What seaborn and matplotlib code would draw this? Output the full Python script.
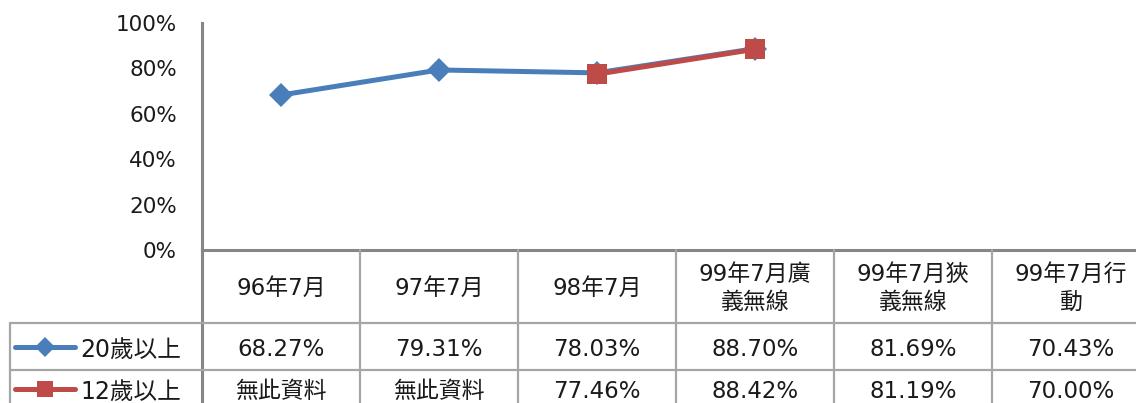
import numpy as np
import pandas as pd
import matplotlib
matplotlib.use("Agg")
import matplotlib.pyplot as plt
from matplotlib.lines import Line2D
from matplotlib.ticker import PercentFormatter
import seaborn as sns

# ---- data ----
categories = ["96年7月", "97年7月", "98年7月", "99年7月廣\n義無線", "99年7月狹\n義無線", "99年7月行\n動"]
series_names = ["20歲以上", "12歲以上"]
values_20 = [68.27, 79.31, 78.03, 88.70, 81.69, 70.43]
values_12 = [None, None, 77.46, 88.42, 81.19, 70.00]
missing_label = "無此資料"
n_plotted = 4  # the chart lines stop at the fourth category
y_ticks = [0, 20, 40, 60, 80, 100]

# ---- style ----
sns.set_theme(style="white")
plt.rcParams['font.family'] = ['DejaVu Sans', 'Noto Sans CJK TC']
FS = 16.5
FS_Y = 15.5
BLUE = "#4A7EBB"
RED = "#BE4B48"
AXIS_GRAY = "#868686"
GRID_GRAY = "#A6A6A6"
TXT = "#1a1a1a"

W, H = 1136, 403
fig = plt.figure(figsize=(W / 100, H / 100), dpi=100)

# main plot geometry (pixels)
ax_left, ax_top, ax_bottom = 202, 23, 250
col_w = 158
n_cols = len(categories)
ax = fig.add_axes([ax_left / W, (H - ax_bottom) / H, col_w * n_cols / W, (ax_bottom - ax_top) / H])

rows = []
for i, cat in enumerate(categories[:n_plotted]):
    for name, vals in zip(series_names, [values_20, values_12]):
        v = vals[i]
        if v is not None:
            rows.append({"x": i, "val": v / 100.0, "series": name})
df = pd.DataFrame(rows)

palette = {series_names[0]: BLUE, series_names[1]: RED}
markers = {series_names[0]: "D", series_names[1]: "s"}
sns.lineplot(data=df, x="x", y="val", hue="series", style="series",
             hue_order=series_names, style_order=series_names,
             palette=palette, markers=markers, dashes=False,
             linewidth=3.6, markersize=12.5, markeredgewidth=0,
             legend=False, sort=False, ax=ax)
for ln in ax.lines:
    if ln.get_marker() == "s":
        ln.set_markersize(15)

ax.set_xlim(-0.5, n_cols - 0.5)
ax.set_ylim(0, 1)
ax.set_yticks([t / 100 for t in y_ticks])
ax.yaxis.set_major_formatter(PercentFormatter(1.0, decimals=0))
ax.set_xticks([])
ax.set_xlabel("")
ax.set_ylabel("")
ax.tick_params(axis="y", length=0, pad=18, labelsize=FS_Y, colors=TXT)
for s in ["top", "right"]:
    ax.spines[s].set_visible(False)
for s in ["left", "bottom"]:
    ax.spines[s].set_color(AXIS_GRAY)
    ax.spines[s].set_linewidth(2.2)

# ---- data table ----
tax = fig.add_axes([0, 0, 1, (H - ax_bottom) / H])
x0 = -0.5 - ax_left / col_w
x1 = -0.5 + (W - ax_left) / col_w
tax.set_xlim(x0, x1)
tax.set_ylim(H, ax_bottom)
tax.axis("off")

def px(xp):
    return -0.5 + (xp - ax_left) / col_w

row1_top, row2_top, bottom = 323, 370, H
legend_left = px(10)

# grid lines
tax.plot([-0.5, -0.5], [ax_bottom, bottom], color=AXIS_GRAY, lw=2.2, clip_on=False, solid_capstyle="butt")
for i in range(1, n_cols + 1):
    tax.plot([i - 0.5, i - 0.5], [ax_bottom, bottom], color=GRID_GRAY, lw=1.6, clip_on=False)
for yl in [row1_top, row2_top]:
    tax.plot([legend_left, n_cols - 0.5], [yl, yl], color=GRID_GRAY, lw=1.6, clip_on=False)
tax.plot([legend_left, legend_left], [row1_top, bottom], color=GRID_GRAY, lw=1.6, clip_on=False)

# headers
for i, cat in enumerate(categories):
    tax.text(i, (ax_bottom + row1_top) / 2 + 2, cat, ha="center", va="center",
             fontsize=FS, color=TXT, linespacing=1.3)

# values
for r, (name, vals, color, mk) in enumerate(zip(series_names, [values_20, values_12],
                                                 [BLUE, RED], ["D", "s"])):
    yc = (row1_top + row2_top) / 2 + 3 if r == 0 else row2_top + 22
    for i, v in enumerate(vals):
        txt = f"{v:.2f}%" if v is not None else missing_label
        tax.text(i, yc, txt, ha="center", va="center", fontsize=FS, color=TXT)
    # legend key
    tax.add_line(Line2D([px(15), px(75)], [yc - 3, yc - 3], color=color, lw=3.6,
                        solid_capstyle="round"))
    tax.add_line(Line2D([px(45)], [yc - 3], marker=mk, color=color,
                        markersize=10 if mk == "D" else 12, markeredgewidth=0))
    tax.text(px(80), yc, name, ha="left", va="center", fontsize=FS + 0.5, color=TXT)

fig.savefig("out.png", dpi=100)
